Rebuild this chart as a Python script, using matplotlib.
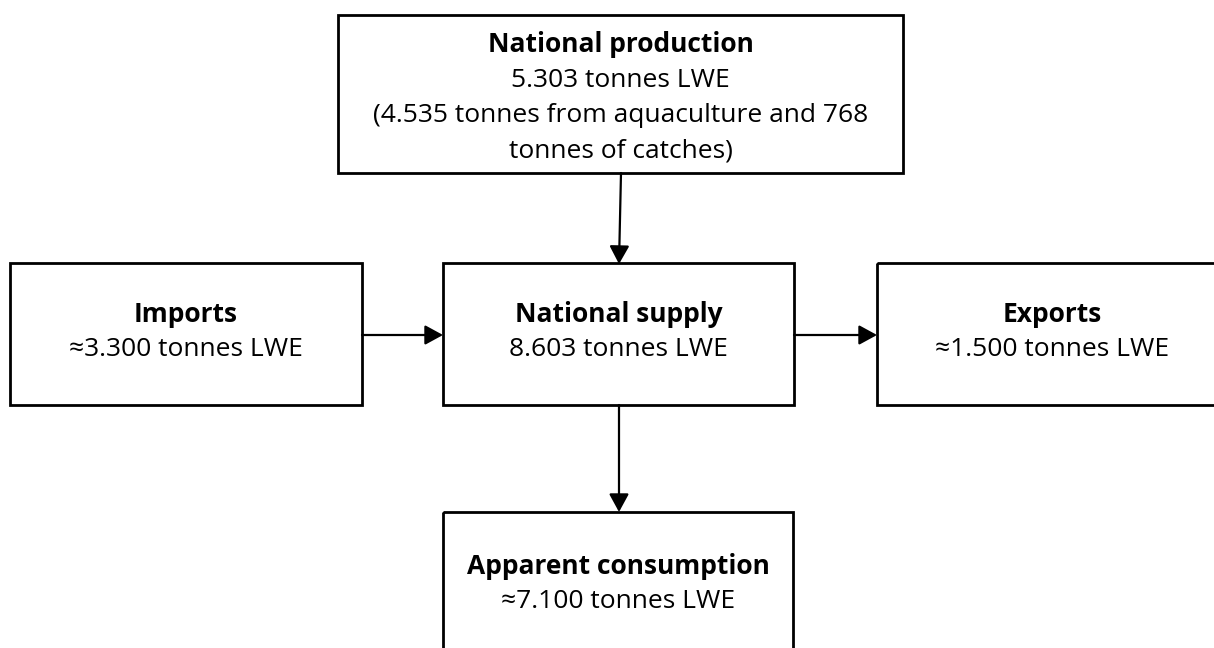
import matplotlib
matplotlib.use("Agg")
import matplotlib.pyplot as plt
from matplotlib.patches import Rectangle, FancyArrowPatch

plt.rcParams['font.family'] = ['Open Sans', 'DejaVu Sans']

# ---- content ----
titles = ["National production", "Imports", "National supply", "Exports", "Apparent consumption"]
values = [
    "5.303 tonnes LWE\n(4.535 tonnes from aquaculture and 768\ntonnes of catches)",
    "≈3.300 tonnes LWE",
    "8.603 tonnes LWE",
    "≈1.500 tonnes LWE",
    "≈7.100 tonnes LWE",
]
# flows between boxes (by index)
flows = [(0, 2), (1, 2), (2, 3), (2, 4)]

# ---- layout (pixel coordinates, y downward) ----
boxes = [  # x0, y0, x1, y1
    (338, 15, 903, 173),
    (10, 263, 362, 405),
    (443, 263, 794, 405),
    (877, 263, 1227, 405),
    (443, 512, 793, 656),
]
text_centers = [98, 332, 332, 332, 584]
arrow_pts = [
    ((621, 173), (619, 264)),
    ((362, 335), (443, 335)),
    ((794, 335), (877, 335)),
    ((619, 405), (619, 512)),
]

W, H = 1214, 648
fig = plt.figure(figsize=(W / 100, H / 100), dpi=100)
ax = fig.add_axes([0, 0, 1, 1])
ax.set_xlim(0, W)
ax.set_ylim(H, 0)
ax.axis('off')

fs = 19
line_px = 35.5

for (x0, y0, x1, y1), cy, t, v in zip(boxes, text_centers, titles, values):
    ax.add_patch(Rectangle((x0, y0), x1 - x0, y1 - y0, fill=False,
                           edgecolor='black', lw=2.0, joinstyle='miter'))
    cx = (x0 + x1) / 2
    lines = 1 + v.count("\n") + 1
    start = cy - (lines - 1) * line_px / 2
    ax.text(cx, start, t, ha='center', va='center', fontsize=fs,
            fontweight='bold', color='black')
    for i, ln in enumerate(v.split("\n")):
        ax.text(cx, start + (i + 1) * line_px, ln, ha='center', va='center',
                fontsize=fs, color='black')

for (a, b), (p0, p1) in zip(flows, arrow_pts):
    arr = FancyArrowPatch(p0, p1, arrowstyle='-|>,head_length=1.1,head_width=0.6',
                          mutation_scale=10, lw=1.6, color='black',
                          shrinkA=0, shrinkB=0)
    ax.add_patch(arr)

fig.savefig("out.png", dpi=100)
